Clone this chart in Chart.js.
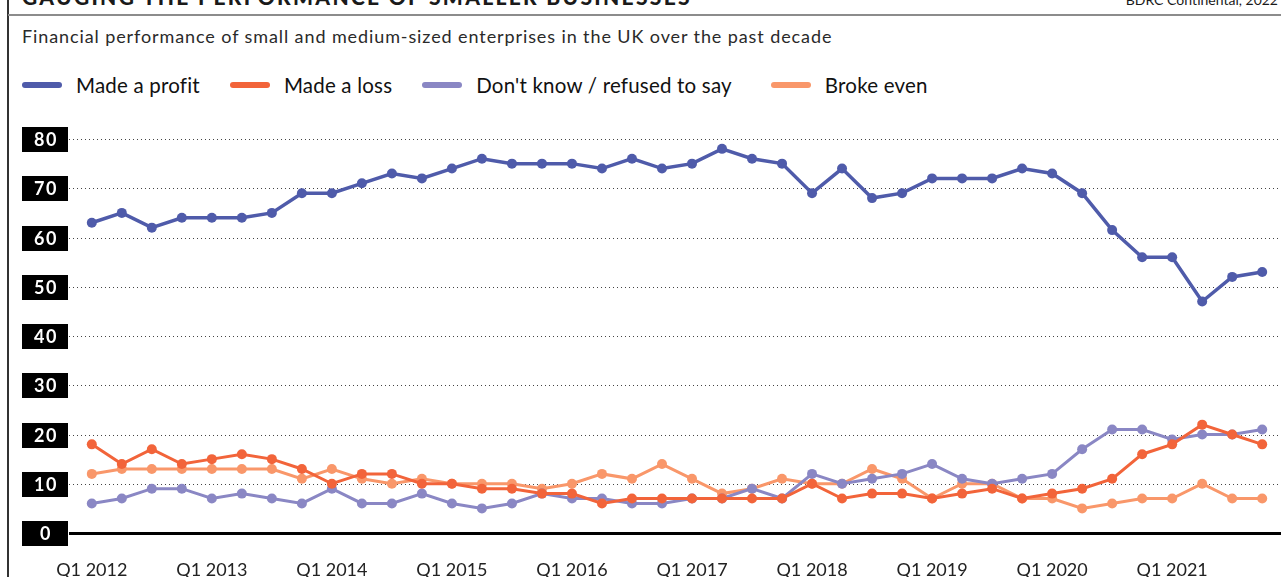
<!DOCTYPE html>
<html>
<head>
<meta charset="utf-8">
<script src="https://cdn.jsdelivr.net/npm/chart.js@4"></script>
<style>
  html, body { margin: 0; padding: 0; background: #fff; }
  body { width: 1281px; height: 577px; position: relative; overflow: hidden; font-family: Lato, sans-serif; color: #1a1a1a; }
  .frame-left { position: absolute; left: 7px; top: 0; width: 2px; height: 577px; background: #333; }
  .rule { position: absolute; left: 8px; right: 0; top: 14px; height: 2px; background: #8c8c8c; }
  .title { position: absolute; left: 22px; top: -16px; font-weight: 900; font-size: 21px; letter-spacing: 2.3px; white-space: nowrap; }
  .source { position: absolute; right: 3px; top: -9px; font-size: 14px; white-space: nowrap; }
  .subtitle { position: absolute; left: 22px; top: 25px; font-size: 18px; letter-spacing: 0.9px; color: #2a2a2a; white-space: nowrap; }
  #legend { position: absolute; left: 22px; top: 73px; display: flex; align-items: center; font-size: 20.5px; letter-spacing: 0.2px; color: #111; }
  #legend .item { display: flex; align-items: center; margin-right: 30px; }
  #legend .item:nth-child(3) { margin-right: 39px; }
  #legend .mark { width: 40px; height: 6px; border-radius: 3px; margin-right: 14px; }
  .chart-box { position: absolute; left: 0; top: 110px; width: 1281px; height: 467px; }
</style>
</head>
<body>
<div class="frame-left"></div>
<div class="rule"></div>
<div class="title">GAUGING THE PERFORMANCE OF SMALLER BUSINESSES</div>
<div class="source">BDRC Continental, 2022</div>
<div class="subtitle">Financial performance of small and medium-sized enterprises in the UK over the past decade</div>
<div id="legend"></div>
<div class="chart-box"><canvas id="myChart" width="1281" height="467"></canvas></div>
<script>
// quarters Q1 2012 .. Q4 2021
const years = [2012, 2013, 2014, 2015, 2016, 2017, 2018, 2019, 2020, 2021];
const quarters = [];
years.forEach(y => ['Q1', 'Q2', 'Q3', 'Q4'].forEach(q => quarters.push(q + ' ' + y)));

const xTickIndex = [0, 4, 8, 12, 16, 20, 24, 28, 32, 36];
const yTicks = [0, 10, 20, 30, 40, 50, 60, 70, 80];

const profit = [63, 65, 62, 64, 64, 64, 65, 69, 69, 71, 73, 72, 74, 76, 75, 75, 75, 74, 76, 74,
                75, 78, 76, 75, 69, 74, 68, 69, 72, 72, 72, 74, 73, 69, 61.5, 56, 56, 47, 52, 53];
const loss = [18, 14, 17, 14, 15, 16, 15, 13, 10, 12, 12, 10, 10, 9, 9, 8, 8, 6, 7, 7,
              7, 7, 7, 7, 10, 7, 8, 8, 7, 8, 9, 7, 8, 9, 11, 16, 18, 22, 20, 18];
const dontKnow = [6, 7, 9, 9, 7, 8, 7, 6, 9, 6, 6, 8, 6, 5, 6, 8, 7, 7, 6, 6,
                  7, 7, 9, 7, 12, 10, 11, 12, 14, 11, 10, 11, 12, 17, 21, 21, 19, 20, 20, 21];
const brokeEven = [12, 13, 13, 13, 13, 13, 13, 11, 13, 11, 10, 11, 10, 10, 10, 9, 10, 12, 11, 14,
                   11, 8, 9, 11, 10, 10, 13, 11, 7, 10, 10, 7, 7, 5, 6, 7, 7, 10, 7, 7];

const seriesNames = ['Made a profit', 'Made a loss', "Don't know / refused to say", 'Broke even'];
const seriesColors = ['#4f5baa', '#f2643a', '#8a87c4', '#f9976a'];
const seriesValues = [profit, loss, dontKnow, brokeEven];

// html legend
const legend = document.getElementById('legend');
seriesNames.forEach((name, i) => {
  const item = document.createElement('div');
  item.className = 'item';
  item.innerHTML = '<span class="mark" style="background:' + seriesColors[i] + '"></span><span>' + name + '</span>';
  legend.appendChild(item);
});

// dotted grid, solid zero line and black tick boxes
const axisBoxes = {
  id: 'axisBoxes',
  beforeDatasetsDraw(chart) {
    const { ctx, chartArea, scales: { y } } = chart;
    ctx.save();
    yTicks.forEach(v => {
      const py = Math.round(y.getPixelForValue(v));
      ctx.beginPath();
      if (v === 0) {
        ctx.setLineDash([]);
        ctx.lineWidth = 3;
        ctx.strokeStyle = '#000';
      } else {
        ctx.setLineDash([1, 3]);
        ctx.lineWidth = 1;
        ctx.strokeStyle = '#444';
      }
      ctx.moveTo(chartArea.left, py + 0.5);
      ctx.lineTo(chart.width, py + 0.5);
      ctx.stroke();

      ctx.setLineDash([]);
      ctx.fillStyle = '#000';
      ctx.fillRect(22, py - 12, 46, 25);
      ctx.fillStyle = '#fff';
      ctx.font = 'bold 18px Lato';
      ctx.letterSpacing = '1.5px';
      ctx.textAlign = 'center';
      ctx.textBaseline = 'middle';
      ctx.fillText(String(v), 46, py + 1);
    });
    ctx.restore();
  }
};

const ctx = document.getElementById('myChart');
new Chart(ctx, {
  type: 'line',
  data: {
    datasets: seriesValues.map((vals, i) => ({
      label: seriesNames[i],
      data: vals.map((v, k) => ({ x: k, y: v })),
      borderColor: seriesColors[i],
      backgroundColor: seriesColors[i],
      borderWidth: i === 0 ? 3.5 : 3,
      pointRadius: 5,
      pointBorderWidth: 0,
      pointBackgroundColor: seriesColors[i],
      tension: 0,
      clip: false
    }))
  },
  options: {
    responsive: false,
    animation: false,
    layout: { padding: { top: 29, left: 0, right: 0, bottom: 0 } },
    plugins: { legend: { display: false }, tooltip: { enabled: false } },
    scales: {
      x: {
        type: 'linear',
        min: -0.76,
        max: 39.46,
        grid: { display: false },
        border: { display: false },
        afterBuildTicks: s => { s.ticks = xTickIndex.map(v => ({ value: v })); },
        afterFit: s => { s.height = 44; },
        ticks: {
          autoSkip: false,
          maxRotation: 0,
          padding: 18,
          color: '#222',
          font: { family: 'Lato', size: 18 },
          callback: v => quarters[v]
        }
      },
      y: {
        min: 0,
        max: 80,
        grid: { display: false },
        border: { display: false },
        afterFit: s => { s.width = 69; },
        ticks: { display: false, stepSize: 10 }
      }
    }
  },
  plugins: [axisBoxes]
});
</script>
</body>
</html>
